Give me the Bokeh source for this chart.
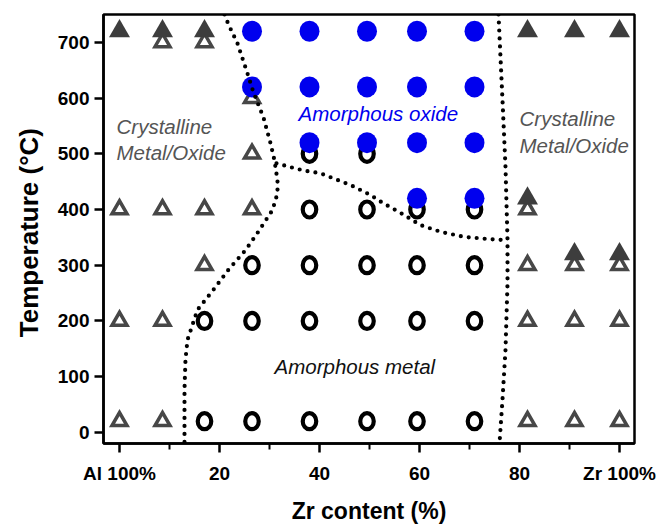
from bokeh.plotting import figure
from bokeh.models import FixedTicker, Label, Range1d
from bokeh.embed import file_html
from bokeh.resources import INLINE

FONT = "Liberation Sans"

# ---- sample grid: Zr content (%) vs annealing temperature (°C) ----
# crystalline, metallic (open triangles)
open_tri_zr = [8.6, 17, 26.5, 26.5, 0, 8.6, 17, 26.5, 81.6, 17, 81.6, 91, 100,
               0, 8.6, 81.6, 91, 100, 0, 8.6, 81.6, 91, 100]
open_tri_temp = [700, 700, 600, 500, 400, 400, 400, 400, 400, 300, 300, 300, 300,
                 200, 200, 200, 200, 200, 20, 20, 20, 20, 20]

# crystalline, oxidised (filled triangles)
fill_tri_zr = [0, 8.6, 17, 81.6, 91, 100, 81.6, 91, 100]
fill_tri_temp = [720, 720, 720, 720, 720, 720, 420, 320, 320]

# amorphous metal (open circles)
metal_zr = [38, 49.5, 38, 49.5, 59.5, 71, 26.5, 38, 49.5, 59.5, 71,
            17, 26.5, 38, 49.5, 59.5, 71, 17, 26.5, 38, 49.5, 59.5, 71]
metal_temp = [500, 500, 400, 400, 400, 400, 300, 300, 300, 300, 300,
              200, 200, 200, 200, 200, 200, 20, 20, 20, 20, 20, 20]

# amorphous oxide (blue dots)
oxide_zr = [26.5, 38, 49.5, 59.5, 71, 26.5, 38, 49.5, 59.5, 71,
            38, 49.5, 59.5, 71, 59.5, 71]
oxide_temp = [720, 720, 720, 720, 720, 620, 620, 620, 620, 620,
              520, 520, 520, 520, 420, 420]

# ---- phase boundaries ----
left_bound_zr = [21, 21.8, 23.6, 25.6, 26.8, 28.8, 30.2, 31, 31.6, 31.6, 30.6,
                 27.6, 25.2, 21.8, 18.8, 15.6, 13.6, 13.2, 13, 13]
left_bound_temp = [750, 732, 698, 644, 610, 565, 519, 488, 452, 429, 399,
                   358, 327, 292, 256, 220, 166, 131, 77, -20]

mid_bound_zr = [31.4, 34.2, 36.8, 40.2, 43.6, 46.2, 50.2, 52.8, 56.2, 60.2,
                64.2, 68.8, 73.6, 77.2]
mid_bound_temp = [483, 476, 470, 465, 453, 444, 426, 411, 394, 372,
                  360, 351, 347, 345]

right_bound_zr = [75.8, 76.6, 77.2, 77.6, 77.6, 77.2, 76.6, 76]
right_bound_temp = [750, 596, 476, 345, 268, 148, 59, -20]

x_ticks = [0, 20, 40, 60, 80, 100]
x_minor = [10, 30, 50, 70, 90]
x_tick_names = {0: "Al 100%", 100: "Zr 100%"}
y_ticks = [0, 100, 200, 300, 400, 500, 600, 700]

p = figure(width=667, height=526, output_backend="svg", toolbar_location=None,
           x_range=Range1d(-3.2, 103), y_range=Range1d(-20, 750),
           min_border_left=103, min_border_right=33,
           min_border_top=14, min_border_bottom=82)

p.grid.visible = False
p.background_fill_color = "white"
p.border_fill_color = "white"
p.outline_line_color = "black"
p.outline_line_width = 2.5

# axes
p.xaxis.ticker = FixedTicker(ticks=x_ticks, minor_ticks=x_minor)
p.xaxis.major_label_overrides = x_tick_names
p.yaxis.ticker = FixedTicker(ticks=y_ticks)
for ax in (p.xaxis[0], p.yaxis[0]):
    ax.axis_line_width = 2.5
    ax.axis_line_color = "black"
    ax.major_tick_line_width = 2.5
    ax.major_tick_in = 0
    ax.major_tick_out = 9
    ax.minor_tick_line_width = 2
    ax.minor_tick_in = 0
    ax.minor_tick_out = 6
    ax.major_label_text_font = FONT
    ax.major_label_text_font_style = "bold"
    ax.major_label_text_font_size = "19px"
    ax.major_label_text_color = "black"
    ax.axis_label_text_font = FONT
    ax.axis_label_text_font_style = "bold"
    ax.axis_label_text_color = "black"

p.xaxis.major_label_standoff = 10
p.xaxis.axis_label = "Zr content (%)"
p.xaxis.axis_label_text_font_size = "23px"
p.xaxis.axis_label_standoff = 11

p.yaxis.major_label_standoff = 5
p.yaxis.axis_label = "Temperature  (\u00b0C)"
p.yaxis.axis_label_text_font_size = "26px"
p.yaxis.axis_label_standoff = 11

# markers
p.scatter(open_tri_zr, open_tri_temp, marker="triangle", size=15,
          fill_color=None, line_color="#474747", line_width=3.5, line_join="miter")
p.ellipse(metal_zr, metal_temp, width=13.5, height=16, width_units="screen",
          height_units="screen", fill_color=None, line_color="black", line_width=4.2)
p.scatter(fill_tri_zr, fill_tri_temp, marker="triangle", size=21,
          fill_color="#3d3d3d", line_color=None)
p.ellipse(oxide_zr, oxide_temp, width=20, height=21, width_units="screen",
          height_units="screen", fill_color="#0000EE", line_color=None)

# dotted phase boundaries
for bx, by in ((left_bound_zr, left_bound_temp),
               (mid_bound_zr, mid_bound_temp),
               (right_bound_zr, right_bound_temp)):
    p.line(bx, by, line_color="black", line_width=4.2, line_dash="0 8",
           line_cap="round")


def note(x, y, text, color, size="20.5px"):
    p.add_layout(Label(x=x, y=y, text=text, text_font=FONT,
                       text_font_size=size, text_font_style="italic",
                       text_color=color, text_align="left",
                       text_baseline="middle"))


note(-0.6, 549, "Crystalline", "#555555")
note(-0.6, 503, "Metal/Oxide", "#555555")
note(80, 563, "Crystalline", "#555555")
note(80, 515, "Metal/Oxide", "#555555")
note(35.8, 572, "Amorphous oxide", "#0000EE")
note(31, 118, "Amorphous metal", "#111111")

open("out.html", "w").write(file_html(p, INLINE))
